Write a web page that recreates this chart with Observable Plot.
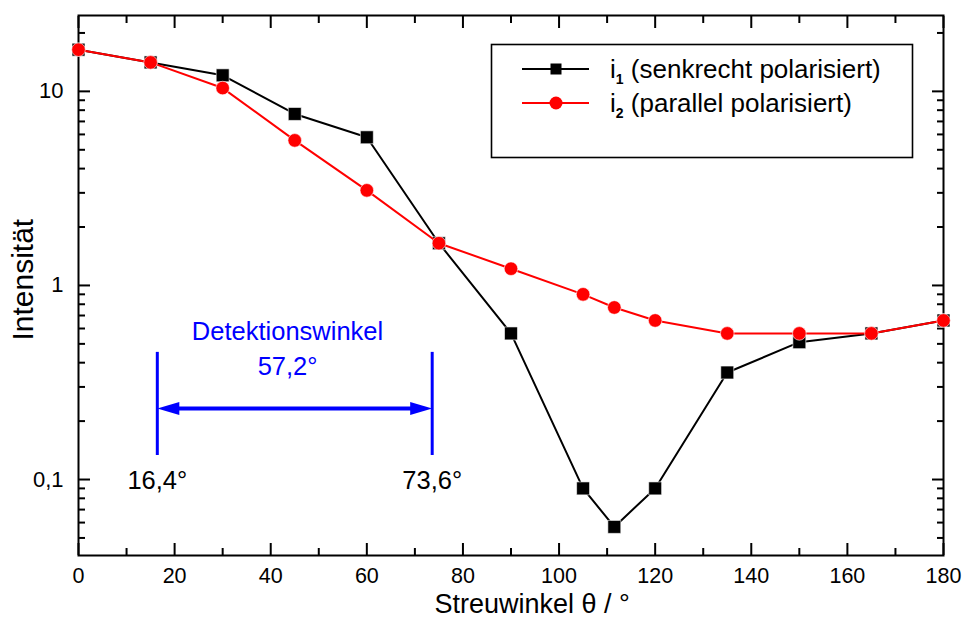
<!DOCTYPE html>
<html><head><meta charset="utf-8">
<script src="https://cdn.jsdelivr.net/npm/d3@7"></script>
<script src="https://cdn.jsdelivr.net/npm/@observablehq/plot@0.6"></script>
<style>
html,body{margin:0;padding:0;background:#fff;}
#wrap{position:relative;width:965px;height:620px;font-family:"Liberation Sans",Arial,sans-serif;}
#wrap svg{display:block;}
</style>
</head><body><div id="wrap"></div>
<script>
// ---- data ----
const theta = [0, 15, 30, 45, 60, 75, 90, 105, 111.5, 120, 135, 150, 165, 180];
const i1 = [16.4, 14.1, 12.1, 7.65, 5.8, 1.65, 0.566, 0.09, 0.057, 0.09, 0.356, 0.51, 0.566, 0.66];
const i2 = [16.4, 14.1, 10.4, 5.59, 3.09, 1.65, 1.22, 0.90, 0.77, 0.66, 0.566, 0.566, 0.566, 0.66];
const seriesNames = ["(senkrecht polarisiert)", "(parallel polarisiert)"];
const seriesSub = ["1", "2"];
const seriesColors = ["#000000", "#ff0000"];

const xMajor = [0, 20, 40, 60, 80, 100, 120, 140, 160, 180];
const xMinor = [10, 30, 50, 70, 90, 110, 130, 150, 170];
const yMajor = [0.1, 1, 10];
const yMinor = [0.05, 0.06, 0.07, 0.08, 0.09, 0.2, 0.3, 0.4, 0.5, 0.6, 0.7, 0.8, 0.9, 2, 3, 4, 5, 6, 7, 8, 9, 20];

const xTitle = "Streuwinkel θ / °";
const yTitle = "Intensität";
const xTitleAt = 94.4;   // horizontal centre of x title, in degrees
const yTitleAt = 0.52;   // vertical centre of y title, in intensity units

// annotation
const detAngles = [16.4, 73.6];
const detLabels = ["16,4°", "73,6°"];
const detSpan = [0.133, 0.452];
const arrowY = 0.232;
const detTitle = "Detektionswinkel";
const detValue = "57,2°";
const detTextX = 43.5;
const detTitleY = 0.579;
const detValueY = 0.382;
const detLabelY = 0.0985;

const rows = theta.map((t, k) => ({t, i1: i1[k], i2: i2[k]}));
const fmt = d => String(d).replace(".", ",");

const headRight = {draw(ctx){ ctx.moveTo(0,0); ctx.lineTo(-22,-6.5); ctx.lineTo(-22,6.5); ctx.closePath(); }};
const headLeft = {draw(ctx){ ctx.moveTo(0,0); ctx.lineTo(22,-6.5); ctx.lineTo(22,6.5); ctx.closePath(); }};

const tickStyle = {strokeWidth: 2, tickFormat: () => "", label: null};

const chart = Plot.plot({
  width: 965, height: 620,
  marginLeft: 78, marginRight: 22, marginTop: 15, marginBottom: 65,
  style: {fontFamily: "'Liberation Sans', Arial, sans-serif", background: "#fff", color: "#000"},
  x: {domain: [0, 180]},
  y: {type: "log", domain: [0.0406, 24.6]},
  marks: [
    Plot.axisX({anchor: "bottom", ticks: xMajor, tickSize: -12, ...tickStyle}),
    Plot.axisX({anchor: "bottom", ticks: xMinor, tickSize: -7, ...tickStyle}),
    Plot.axisX({anchor: "top", ticks: xMajor, tickSize: -12, ...tickStyle}),
    Plot.axisX({anchor: "top", ticks: xMinor, tickSize: -7, ...tickStyle}),
    Plot.axisY({anchor: "left", ticks: yMajor, tickSize: -12, ...tickStyle}),
    Plot.axisY({anchor: "left", ticks: yMinor, tickSize: -7, ...tickStyle}),
    Plot.axisY({anchor: "right", ticks: yMajor, tickSize: -12, ...tickStyle}),
    Plot.axisY({anchor: "right", ticks: yMinor, tickSize: -7, ...tickStyle}),
    Plot.axisX({anchor: "bottom", ticks: xMajor, tickSize: 0, tickPadding: 12, fontSize: 21.5, label: null, tickFormat: d => String(d)}),
    Plot.axisY({anchor: "left", ticks: yMajor, tickSize: 0, tickPadding: 15, fontSize: 22, label: null, tickFormat: fmt}),
    Plot.frame({stroke: "#000", strokeWidth: 2}),
    Plot.text([xTitle], {text: d => d, x: xTitleAt, frameAnchor: "bottom", lineAnchor: "middle", dy: 49, fontSize: 27, fill: "#000"}),
    Plot.text([yTitle], {text: d => d, y: yTitleAt, frameAnchor: "left", lineAnchor: "middle", rotate: -90, dx: -55, fontSize: 30, fill: "#000"}),
    Plot.ruleX(detAngles, {x: d => d, y1: detSpan[0], y2: detSpan[1], stroke: "#0000ff", strokeWidth: 3}),
    Plot.link([detAngles], {x1: d => d[0] + 3, x2: d => d[1] - 3, y1: arrowY, y2: arrowY, stroke: "#0000ff", strokeWidth: 4}),
    Plot.dot([detAngles[1]], {x: d => d, y: arrowY, symbol: headRight, fill: "#0000ff", stroke: "none"}),
    Plot.dot([detAngles[0]], {x: d => d, y: arrowY, symbol: headLeft, fill: "#0000ff", stroke: "none"}),
    Plot.text([detTitle], {text: d => d, x: detTextX, y: detTitleY, fill: "#0000ff", fontSize: 25.5}),
    Plot.text([detValue], {text: d => d, x: detTextX, y: detValueY, fill: "#0000ff", fontSize: 25.5}),
    Plot.text(detAngles, {x: d => d, y: detLabelY, text: (d, k) => detLabels[k], fill: "#000", fontSize: 25.5}),
    Plot.line(rows, {x: "t", y: "i1", stroke: seriesColors[0], strokeWidth: 2}),
    Plot.dot(rows, {x: "t", y: "i1", symbol: "square", r: 7.3, fill: seriesColors[0], stroke: "#fff", strokeWidth: 0.6}),
    Plot.line(rows, {x: "t", y: "i2", stroke: seriesColors[1], strokeWidth: 2}),
    Plot.dot(rows, {x: "t", y: "i2", symbol: "circle", r: 6.8, fill: seriesColors[1], stroke: "#fff", strokeWidth: 0.6})
  ]
});
const wrap = document.getElementById("wrap");
wrap.appendChild(chart);

// legend
const NS = "http://www.w3.org/2000/svg";
const lg = document.createElementNS(NS, "svg");
lg.setAttribute("width", 424); lg.setAttribute("height", 116);
lg.style.position = "absolute"; lg.style.left = "490px"; lg.style.top = "43px";
lg.style.fontFamily = "'Liberation Sans', Arial, sans-serif";
let html = `<rect x="1.5" y="1.5" width="421" height="113" fill="#fff" stroke="#000" stroke-width="1.6"/>`;
seriesNames.forEach((name, k) => {
  const cy = 26 + k * 34, c = seriesColors[k];
  html += `<line x1="32" x2="99" y1="${cy}" y2="${cy}" stroke="${c}" stroke-width="2"/>`;
  html += k === 0
    ? `<rect x="${66 - 5.5}" y="${cy - 5.5}" width="11" height="11" fill="${c}"/>`
    : `<circle cx="66" cy="${cy}" r="6.5" fill="${c}"/>`;
  html += `<text x="120" y="${cy + 9}" font-size="26" fill="#000">i<tspan font-size="14" font-weight="bold" dy="6">${seriesSub[k]}</tspan><tspan dy="-6"> ${name}</tspan></text>`;
});
lg.innerHTML = html;
wrap.appendChild(lg);
</script>
</body></html>
